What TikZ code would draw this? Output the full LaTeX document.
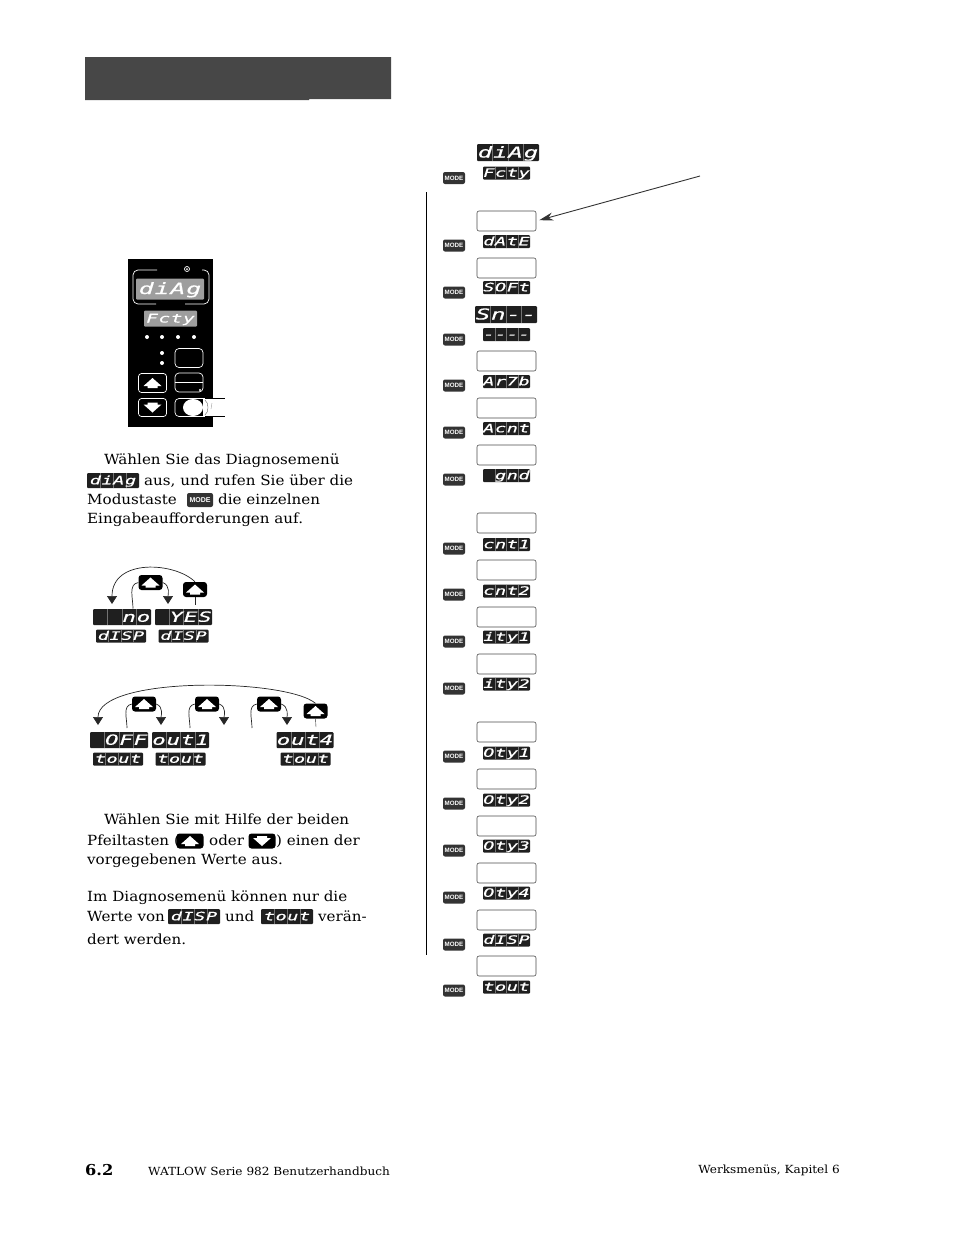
\documentclass[tikz,border=0pt]{standalone}
\usepackage{fontspec}
\usetikzlibrary{calc, arrows.meta}
\setmainfont[FakeStretch=1.08]{DejaVu Serif}
\newfontfamily\lcdfont[FakeStretch=1.6,FakeBold=0.5,LetterSpace=6,Ligatures=NoCommon]{DejaVu Sans Mono}
\newfontfamily\keyfont{Liberation Sans}
\newcommand{\lcdsize}[1]{\lcdfont\itshape\fontsize{#1}{#1}\selectfont}
\definecolor{panelgrey}{gray}{0.62}
\definecolor{bargrey}{gray}{0.28}
\definecolor{lcddark}{gray}{0.12}
\definecolor{modegrey}{gray}{0.2}
\tikzset{
        body/.style={anchor=base west, inner sep=0pt, font=\fontsize{14}{16}\selectfont},
        lcdsep/.style={draw=white!45!black, line width=0.3pt},
        lcd/.style={fill=lcddark, text=white, rounded corners=1pt, inner sep=0pt,
                path picture={\foreach \i in {1,2,3}
                        \draw[lcdsep] ($(path picture bounding box.north west)!\i/4!(path picture bounding box.north east)$)
                        -- ($(path picture bounding box.south west)!\i/4!(path picture bounding box.south east)$);}},
        lcdsmall/.style={lcd, minimum width=47pt, minimum height=13pt, text height=8.5pt, text depth=1pt, font=\lcdsize{11.5}},
        lcdbig/.style={lcd, minimum width=62pt, minimum height=17pt, text height=11pt, text depth=1pt, font=\lcdsize{15}},
        lcdmid/.style={lcd, minimum width=57pt, minimum height=16pt, text height=10.5pt, text depth=1pt, font=\lcdsize{14}},
        paneltext/.style={fill=panelgrey, text=white, inner sep=0pt, rounded corners=1pt},
        entrybox/.style={draw=black!70, fill=white, rounded corners=2pt, line width=0.6pt, inner sep=0pt, minimum width=59pt, minimum height=20pt},
        modekey/.style={fill=modegrey, text=white, rounded corners=2pt, inner sep=0pt, minimum width=22pt, minimum height=12pt, font=\keyfont\bfseries\fontsize{6.2}{7}\selectfont},
        keybox/.style={fill=black, rounded corners=3pt, inner sep=0pt, minimum width=24pt, minimum height=15pt},
        upkey/.style={keybox, path picture={\fill[white, sharp corners, shift={(path picture bounding box.center)}]
                (0,-5) -- (9,3) -- (5,3) -- (5,5) -- (-5,5) -- (-5,3) -- (-9,3) -- cycle;}},
        downkey/.style={keybox, path picture={\fill[white, sharp corners, shift={(path picture bounding box.center)}]
                (0,5) -- (9,-3) -- (5,-3) -- (5,-5) -- (-5,-5) -- (-5,-3) -- (-9,-3) -- cycle;}},
        >={Triangle[length=8pt, width=10pt]},
        loopline/.style={line width=0.7pt, black!85},
}
\begin{document}
\begin{tikzpicture}[x=1pt, y=-1pt]
        \useasboundingbox (0,0) rectangle (954,1235);
        \fill[bargrey] (85,57) -- (391,57) -- (391,99) -- (309,99) -- (309,100) -- (85,100) -- cycle;

        \node[lcdbig] (diagtop) at (508,152.5) {diAg};
        \node[lcdsmall] (fctytop) at (506.5,173) {Fcty};
        \node[modekey] (modetop) at (454,178) {MODE};
        \draw[line width=0.6pt] (426,192) -- (426,955);

        \foreach \rowid/\lab/\boxy/\laby/\modey in {
                date/dAtE/221/241.5/245.5, soft/SOFt/268/287.5/292.5, ambi/Ar7b/361/381.5/385.5,
                acnt/Acnt/408/428.5/432.5, gnd/~gnd/455/475.5/479.5, cnta/cnt1/523/544.5/548.5,
                cntb/cnt2/570/591/594.5, itya/ity1/617/637/641.5, ityb/ity2/664/684/688.5,
                otya/Oty1/732/753/756.5, otyb/Oty2/779/800/803.5, otyc/Oty3/826/846/850.5,
                otyd/Oty4/873/893/897.5, disp/dISP/920/940/944.5, tout/tout/966/987/990.5}{
                \node[entrybox] (box\rowid) at (506.5,\boxy) {};
                \node[lcdsmall] (lab\rowid) at (506.5,\laby) {\lab};
                \node[modekey] (mode\rowid) at (454,\modey) {MODE};
        }
        \node[lcdbig] (snbig) at (506,314.5) {Sn--};
        \node[lcdsmall] (snlab) at (506.5,334.5) {----};
        \node[modekey] (modesn) at (454,339.5) {MODE};

        \coordinate (notestart) at (700,176);
        \draw[-{Stealth[length=14pt, width=8pt]}, line width=0.9pt, black!80, shorten >=3pt] (notestart) -- (boxdate.east);

        \fill[black] (128,259) rectangle (213,427);
        \draw[white, line width=0.7pt, rounded corners=5pt] (157,270) -- (133,270) -- (133,304) -- (156,304);
        \draw[white, line width=0.7pt, rounded corners=5pt] (202,270) -- (209,270) -- (209,304) -- (185,304);
        \draw[white, line width=0.7pt] (187,269) circle (2.5pt);
        \fill[white] (187,269) circle (1pt);
        \node[paneltext, minimum width=68pt, minimum height=21pt, text height=11pt, text depth=1pt, font=\lcdsize{15.5}] (paneldiag) at (170,289) {diAg};
        \node[paneltext, minimum width=53pt, minimum height=16pt, text height=9pt, text depth=1pt, font=\lcdsize{12}] (panelfcty) at (170.5,318.5) {Fcty};
        \foreach \dotx in {147,162,178,194}
                \fill[white] (\dotx,337) circle (2pt);
        \fill[white] (162,353) circle (2pt);
        \fill[white] (162,363) circle (2pt);
        \node[draw=white, fill=black, rounded corners=4pt, inner sep=0pt, line width=0.7pt, minimum width=28pt, minimum height=19pt] (keyblank) at (189,358) {};
        \node[draw=white, fill=black, rounded corners=4pt, inner sep=0pt, line width=0.7pt, minimum width=28pt, minimum height=19pt] (keyline) at (189,382.5) {};
        \draw[white, line width=0.7pt] (keyline.west) -- (keyline.east);
        \fill[white] (200,390) circle (1.2pt);
        \node[upkey, draw=white, line width=0.7pt, minimum width=28pt, minimum height=19pt] (keyup) at (152.5,383) {};
        \node[downkey, draw=white, line width=0.7pt, minimum width=28pt, minimum height=18pt] (keydown) at (152.5,407.5) {};
        \node[draw=white, fill=black, rounded corners=4pt, inner sep=0pt, line width=0.7pt, minimum width=34pt, minimum height=18pt] (keymode) at (192,407.5) {};
        \fill[white] (203,398) rectangle (225,416);
        \draw[line width=0.5pt] (205,398) -- (225,398);
        \draw[line width=0.5pt] (205,416) -- (225,416);
        \fill[white] (193,407.5) ellipse (10pt and 8.5pt);
        \draw[line width=0.4pt, black!60] (205,400) .. controls (209,403) and (209,412) .. (205,415);
        \draw[line width=0.3pt, black!50] (212,403) -- (211,409);

        \node[body] (para1a) at (104,464) {Wählen Sie das Diagnosemenü};
        \node[lcdsmall, minimum width=52pt, minimum height=15pt] (para1lcd) at (113,480.5) {diAg};
        \node[body] (para1b) at (144,485) {aus, und rufen Sie über die};
        \node[body] (para1c) at (87,504) {Modustaste};
        \node[modekey, minimum width=26pt, minimum height=14pt, font=\keyfont\bfseries\fontsize{7}{8}\selectfont] (para1key) at (200,500) {MODE};
        \node[body] (para1d) at (218,504) {die einzelnen};
        \node[body] (para1e) at (87,523) {Eingabeaufforderungen auf.};

        \node[upkey] (upA) at (150.5,582.5) {};
        \node[upkey] (upB) at (195,589.5) {};
        \node[lcdmid, minimum width=58pt] (dispno) at (122,617) {~~no};
        \node[lcdmid] (dispyes) at (183.5,617) {~YES};
        \node[lcdsmall, minimum width=50pt] (dispa) at (121,636) {dISP};
        \node[lcdsmall, minimum width=50pt] (dispb) at (183.5,636) {dISP};
        \coordinate (notip) at (112,604);
        \coordinate (yestip) at (168,604);
        \coordinate (noleg) at (133,608.5);
        \coordinate (yesleg) at (195,605);
        \draw[->, loopline] (upB.north) .. controls (175,562) and (112,558) .. (notip);
        \draw[loopline] (noleg) to[out=90, in=190] (upA.west);
        \draw[->, loopline] (upA.east) to[out=-20, in=90] (yestip);
        \draw[loopline, line width=0.4pt] (upB.south) -- (yesleg);

        \node[upkey] (upC) at (144,704) {};
        \node[upkey] (upD) at (207,704) {};
        \node[upkey] (upE) at (269,704) {};
        \node[upkey] (upF) at (315.5,711) {};
        \node[lcdmid, minimum width=58pt] (outoff) at (119,740) {~OFF};
        \node[lcdmid] (outone) at (180.5,740) {out1};
        \node[lcdmid] (outfour) at (305,740) {out4};
        \node[lcdsmall, minimum width=50pt] (toutA) at (118,759) {tout};
        \node[lcdsmall, minimum width=50pt] (toutB) at (180.5,759) {tout};
        \node[lcdsmall, minimum width=50pt] (toutC) at (305.5,759) {tout};
        \coordinate (offtip) at (98,725);
        \coordinate (legC) at (127,728);
        \coordinate (legD) at (190,728);
        \coordinate (legE) at (252,728);
        \coordinate (legF) at (316,727);
        \coordinate (tipC) at (161,725);
        \coordinate (tipD) at (224,725);
        \coordinate (tipE) at (287,725);
        \draw[->, loopline] (upF.north) .. controls (285,678) and (98,676) .. (offtip);
        \draw[loopline] (legC) to[out=90, in=190] (upC.west);
        \draw[loopline] (legD) to[out=90, in=190] (upD.west);
        \draw[loopline] (legE) to[out=90, in=190] (upE.west);
        \draw[->, loopline] (upC.east) to[out=-20, in=90] (tipC);
        \draw[->, loopline] (upD.east) to[out=-20, in=90] (tipD);
        \draw[->, loopline] (upE.east) to[out=-20, in=90] (tipE);
        \draw[loopline, line width=0.4pt] (upF.south) -- (legF);

        \node[body] (para2a) at (104,824) {Wählen Sie mit Hilfe der beiden};
        \node[body] (para2b) at (87,845) {Pfeiltasten (};
        \node[upkey, minimum width=27pt, minimum height=15pt] (inlineup) at (190,841) {};
        \node[body] (para2c) at (209,845) {oder};
        \node[downkey, minimum width=27pt, minimum height=15pt] (inlinedown) at (262,841) {};
        \node[body] (para2d) at (276,845) {) einen der};
        \node[body] (para2e) at (87,864) {vorgegebenen Werte aus.};
        \node[body] (para3a) at (87,901) {Im Diagnosemenü können nur die};
        \node[body] (para3b) at (87,921) {Werte von};
        \node[lcdsmall, minimum width=52pt, minimum height=15pt] (para3lcda) at (194,916.5) {dISP};
        \node[body] (para3c) at (225,921) {und};
        \node[lcdsmall, minimum width=52pt, minimum height=15pt] (para3lcdb) at (287,916.5) {tout};
        \node[body] (para3d) at (318,921) {verän-};
        \node[body] (para3e) at (87,944) {dert werden.};

        \node[body, font=\bfseries\fontsize{15}{16}\selectfont] (pagenum) at (85,1175) {6.2};
        \node[body, font=\fontsize{11.2}{12}\selectfont] (footleft) at (148,1175) {WATLOW Serie 982 Benutzerhandbuch};
        \node[anchor=base east, inner sep=0pt, font=\fontsize{11.2}{12}\selectfont] (footright) at (840,1173) {Werksmenüs, Kapitel 6};
\end{tikzpicture}
\end{document}
